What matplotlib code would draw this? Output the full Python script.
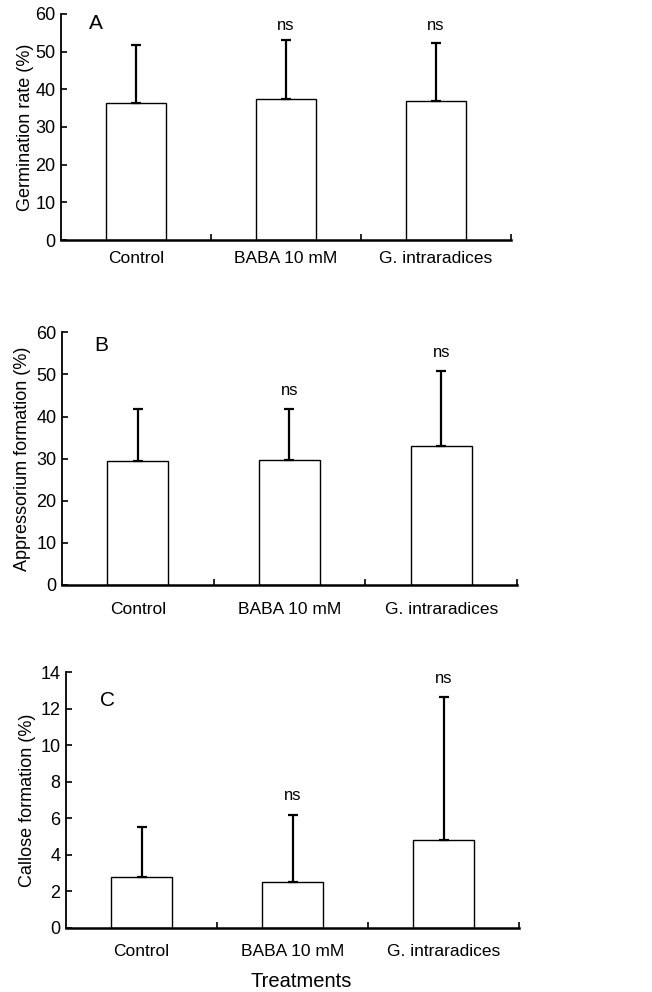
import numpy as np
import matplotlib
matplotlib.use("Agg")
import matplotlib.pyplot as plt

plt.rcParams["font.family"] = ["Liberation Sans", "DejaVu Sans"]

categories = ["Control", "BABA 10 mM", "G. intraradices"]

germination = [36.3, 37.3, 36.8]
germination_err = [15.4, 15.8, 15.6]
germination_sig = ["", "ns", "ns"]

appressorium = [29.4, 29.7, 33.1]
appressorium_err = [12.3, 12.0, 17.7]
appressorium_sig = ["", "ns", "ns"]

callose = [2.78, 2.49, 4.81]
callose_err = [2.72, 3.71, 7.85]
callose_sig = ["", "ns", "ns"]


def draw_panel(ax, values, errs, sig, ymax, ystep, ylabel, letter, letter_xy,
               ns_fixed=None, cat_pad=12, ylabel_pad=4):
    x = np.arange(len(categories))
    ax.bar(x, values, width=0.4, color="white", edgecolor="black", linewidth=1.0, zorder=2)
    ax.errorbar(x, values, yerr=[np.zeros(len(values)), errs], fmt="none",
                ecolor="black", elinewidth=1.6, capsize=3.5, capthick=1.6, zorder=3)
    for xi, v, e, s in zip(x, values, errs, sig):
        if not s:
            continue
        if ns_fixed is not None:
            ax.text(xi, ns_fixed, s, ha="center", va="center", fontsize=12)
        else:
            ax.annotate(s, (xi, v + e), xytext=(0, 8), textcoords="offset points",
                        ha="center", va="bottom", fontsize=12)
    ax.set_xlim(-0.5, 2.5)
    ax.set_ylim(0, ymax)
    ax.set_yticks(np.arange(0, ymax + ystep / 2, ystep))
    ax.set_xticks([0.5, 1.5, 2.5])
    ax.set_xticklabels([])
    ax.set_xticks(x, minor=True)
    ax.set_xticklabels(categories, minor=True, fontsize=12.5)
    ax.tick_params(axis="x", which="minor", length=0, pad=cat_pad)
    ax.tick_params(axis="x", which="major", direction="in", length=4, width=1.2)
    ax.tick_params(axis="y", direction="in", length=4, width=1.2, labelsize=13, pad=4)
    ax.spines["top"].set_visible(False)
    ax.spines["right"].set_visible(False)
    ax.spines["left"].set_linewidth(1.3)
    ax.spines["bottom"].set_linewidth(1.8)
    ax.set_ylabel(ylabel, fontsize=13, labelpad=ylabel_pad)
    ax.text(letter_xy[0], letter_xy[1], letter, transform=ax.transAxes,
            fontsize=15, ha="left", va="top")


fig = plt.figure(figsize=(6.52, 9.92), dpi=100)

ax_a = fig.add_axes([0.0936, 0.758, 0.690, 0.228])
draw_panel(ax_a, germination, germination_err, germination_sig, 60, 10,
           "Germination rate (%)", "A", (0.062, 1.0), ns_fixed=56.8,
           cat_pad=8, ylabel_pad=1)

ax_b = fig.add_axes([0.095, 0.4103, 0.698, 0.2547])
draw_panel(ax_b, appressorium, appressorium_err, appressorium_sig, 60, 10,
           "Appressorium formation (%)", "B", (0.07, 0.985), cat_pad=12, ylabel_pad=4)

ax_c = fig.add_axes([0.1012, 0.0648, 0.695, 0.2575])
draw_panel(ax_c, callose, callose_err, callose_sig, 14, 2,
           "Callose formation (%)", "C", (0.075, 0.925), cat_pad=12, ylabel_pad=3)
ax_c.set_xlabel("Treatments", fontsize=14.5, labelpad=3)
ax_c.xaxis.set_label_coords(0.52, -0.172)

fig.savefig("out.png", dpi=100)
